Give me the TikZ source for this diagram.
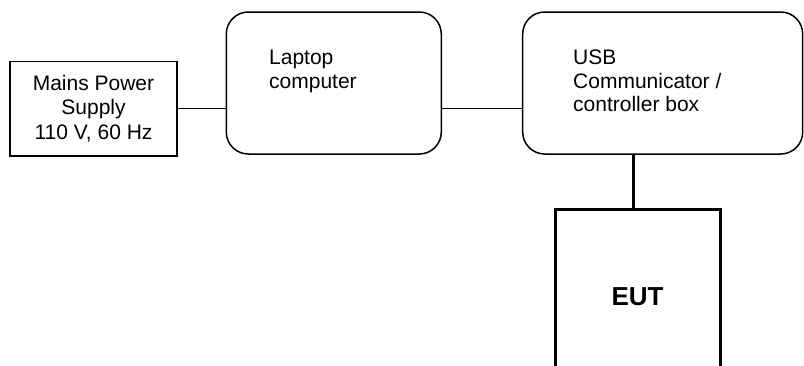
\documentclass[tikz,border=0pt]{standalone}
\usepackage{fontspec}
\setmainfont{Liberation Sans}
\usepackage{tikz}

\begin{document}
\begin{tikzpicture}[x=1pt, y=-1pt,
    box/.style={draw, line width=1.5pt, minimum width=167pt, minimum height=94.5pt, inner sep=0pt, align=center, font=\fontsize{21}{24.3}\selectfont},
    rbox/.style={draw, line width=1.5pt, rounded corners=22pt, minimum height=142pt, inner sep=0pt},
    lbl/.style={anchor=north west, align=left, inner sep=0pt, font=\fontsize{21}{23.4}\selectfont},
    eutbox/.style={draw, line width=3pt, minimum width=165pt, minimum height=175pt, inner sep=0pt, font=\fontsize{26}{30}\selectfont\bfseries},
    wire/.style={line width=1.5pt},
    busline/.style={line width=3pt}]
\clip[use as bounding box] (0,0) rectangle (804,365);
% Define the boxes
\node[box] (mains) at (93.5,108.7) {Mains Power\\Supply\\110 V, 60 Hz};
\node[rbox, minimum width=215pt] (laptop) at (333.8,83) {};
\node[rbox, minimum width=280pt] (usb) at (662.7,83) {};
\node[eutbox] (eut) at (637.5,297) {EUT};
% Labels inside the rounded boxes
\node[lbl] (laptoptxt) at (269,50) {Laptop\\computer};
\node[lbl] (usbtxt) at (573,50) {USB\\Communicator /\\controller box};
% Add the connections
\coordinate (tap) at (633,0);
\draw[wire] (mains.east) -- (mains.east -| laptop.west);
\draw[wire] (mains.east -| laptop.east) -- (mains.east -| usb.west);
\draw[busline] (tap |- usb.south) -- (tap |- eut.north);
\end{tikzpicture}
\end{document}
